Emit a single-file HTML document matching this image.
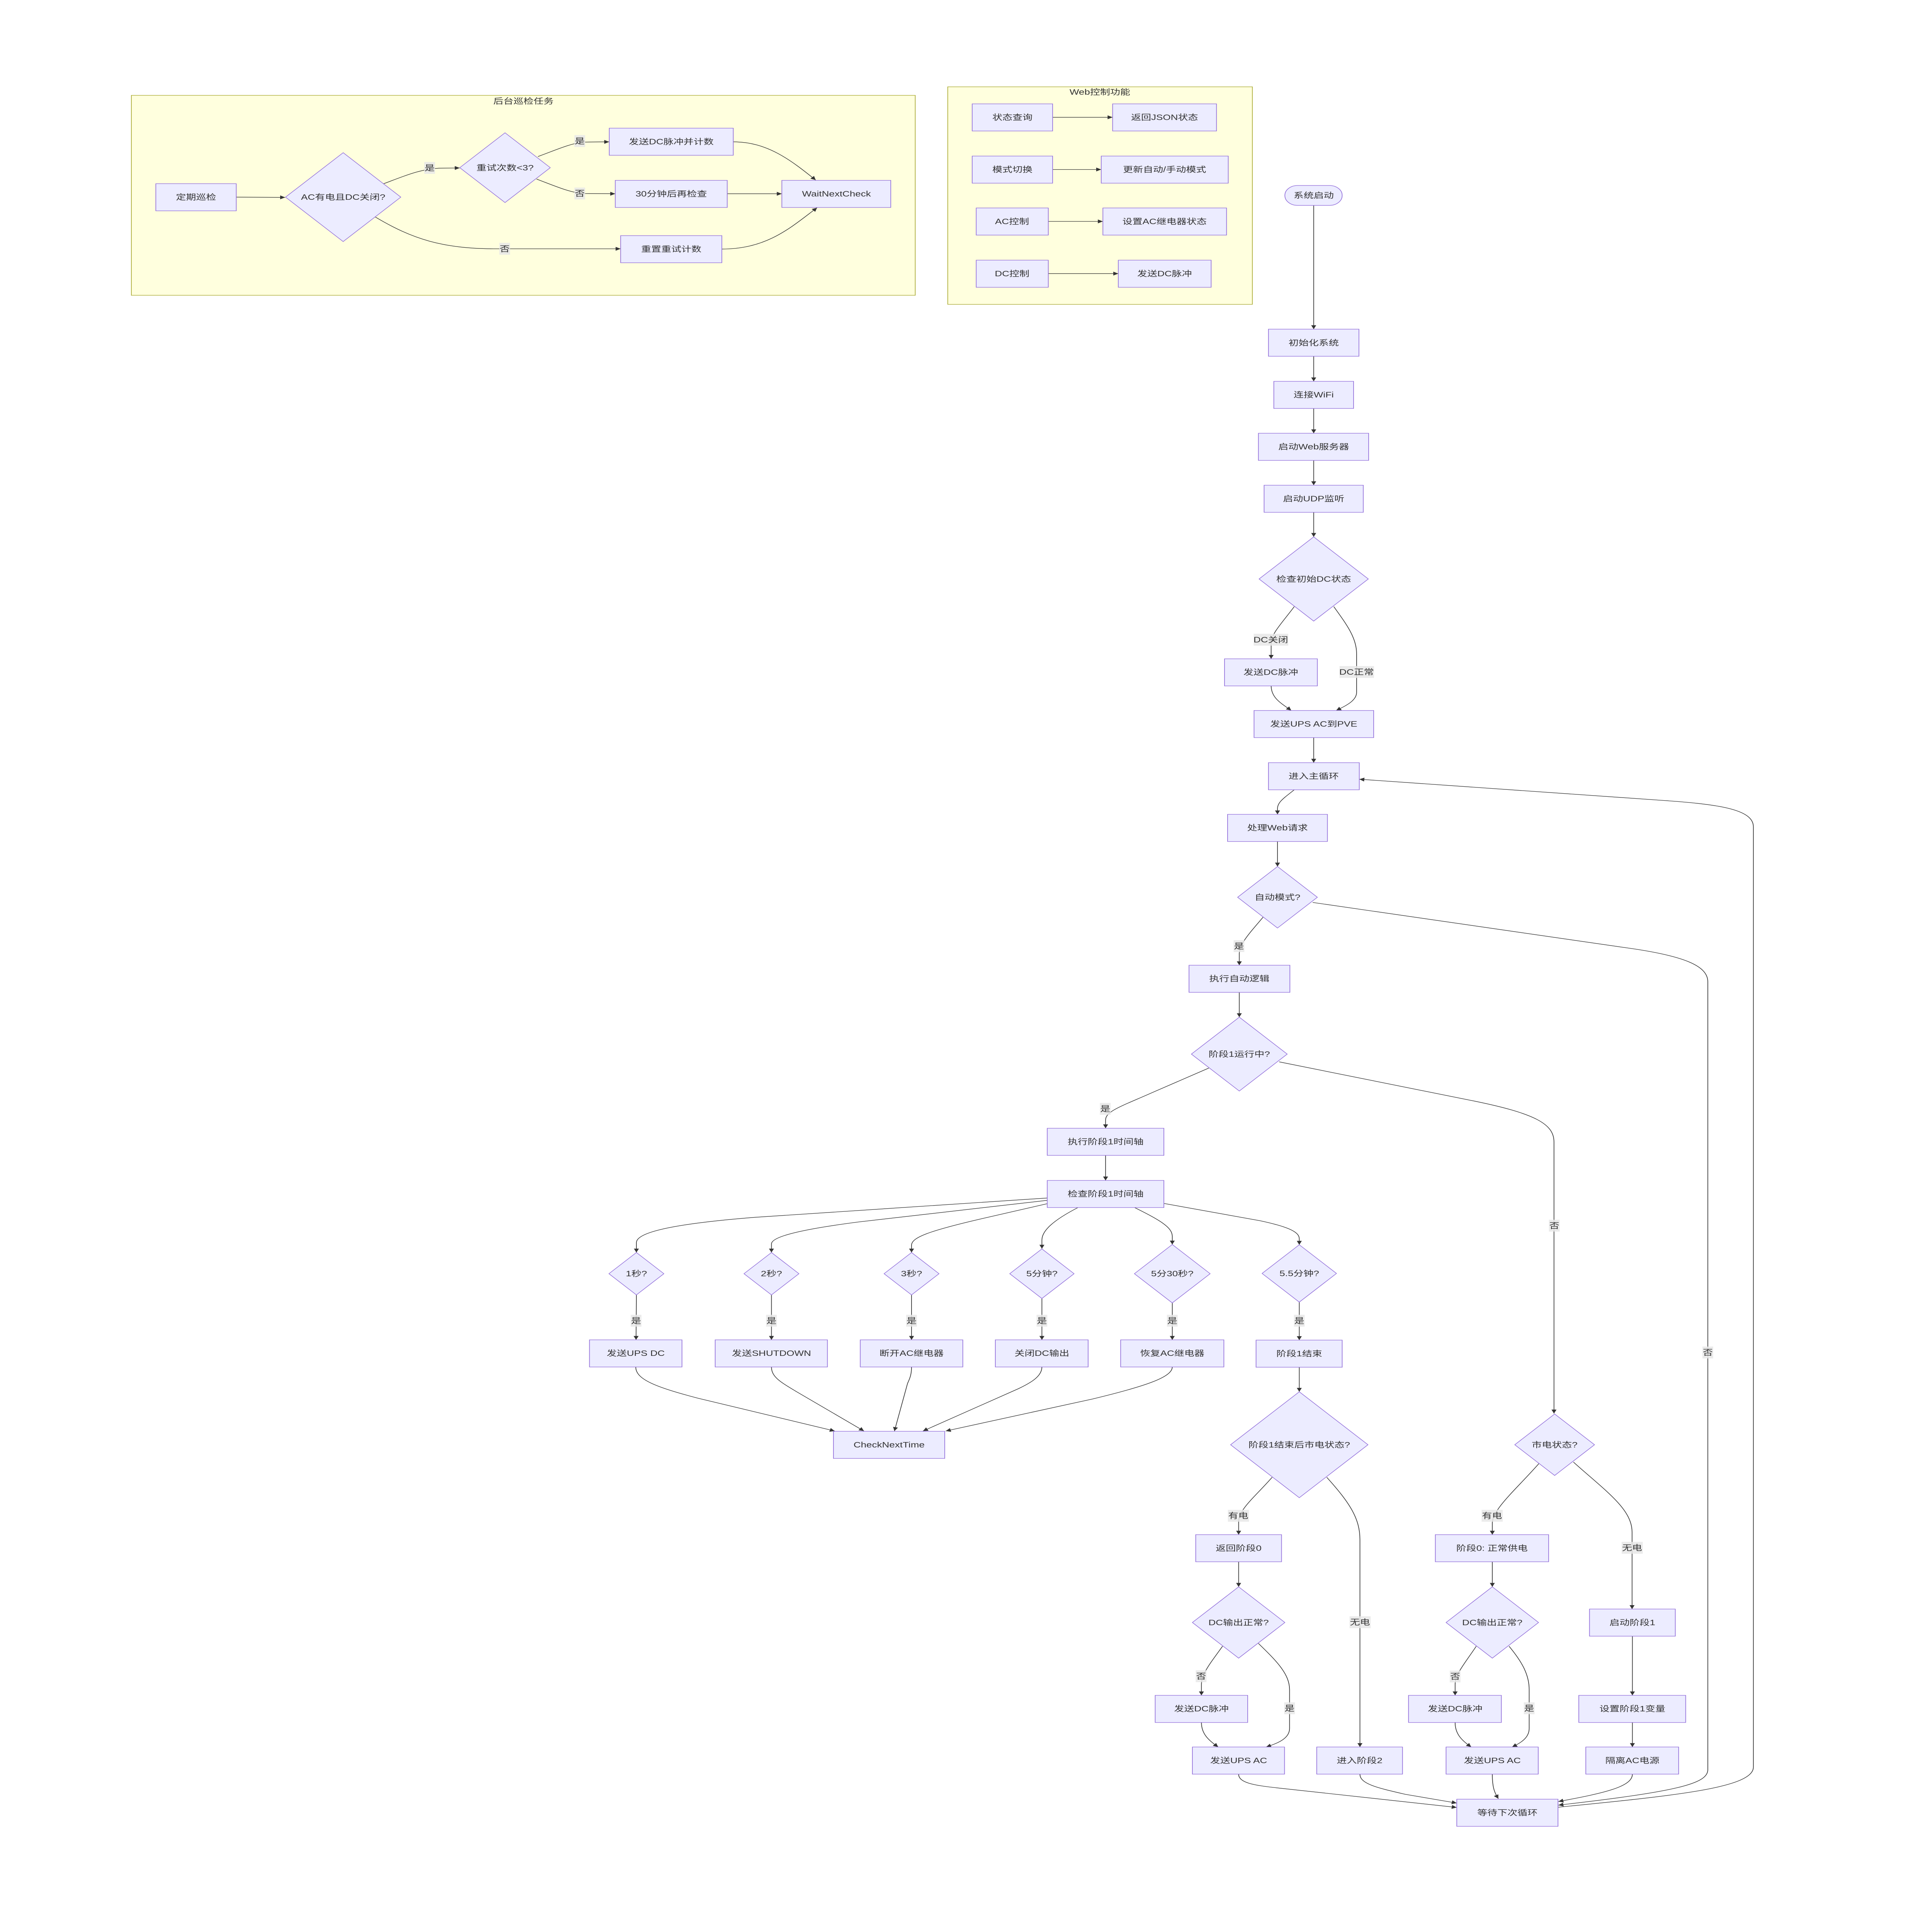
<!DOCTYPE html>
<html><head><meta charset="utf-8"><style>
html,body{margin:0;padding:0;background:#fff;overflow:hidden;width:100%;height:100%;}
svg{position:fixed;left:0;top:0;display:block;width:100vw;height:100vh;}
text{font-family:"Liberation Sans","Noto Sans CJK SC",sans-serif;font-size:30px;fill:#333;}
.n{fill:#ECECFF;stroke:#9370DB;stroke-width:2;}
.c{fill:#ffffde;stroke:#aaaa33;stroke-width:2;}
.e{fill:none;stroke:#333;stroke-width:2;}
.l{fill:#e8e8e8;fill-opacity:0.85;}
</style></head><body>
<svg viewBox="0 0 5765 7478" preserveAspectRatio="none" xmlns="http://www.w3.org/2000/svg">
<defs><marker id="a" viewBox="0 0 10 10" refX="10" refY="5" markerUnits="userSpaceOnUse" markerWidth="16" markerHeight="15" orient="auto"><path d="M0,0 L10,5 L0,10 z" fill="#333"/></marker></defs>
<rect width="5765" height="7478" fill="#fff"/>

<!-- clusters -->
<rect class="c" x="392" y="369" width="2339" height="774"/>
<text x="1562" y="391" text-anchor="middle" dominant-baseline="central">后台巡检任务</text>
<rect class="c" x="2828" y="336" width="909" height="842"/>
<text x="3282" y="356" text-anchor="middle" dominant-baseline="central">Web控制功能</text>

<!-- edges -->
<g>
<path class="e" marker-end="url(#a)" d="M705,763 L851,764"/>
<path class="e" marker-end="url(#a)" d="M1145,711 C1215,677 1255,655 1310,651 L1372,650"/>
<path class="e" marker-end="url(#a)" d="M1605,606 C1660,580 1700,556 1740,550 L1818,549"/>
<path class="e" marker-end="url(#a)" d="M1601,693 C1660,722 1700,745 1740,749 L1836,750"/>
<path class="e" marker-end="url(#a)" d="M1120,840 C1230,925 1320,963 1480,963 L1852,963"/>
<path class="e" marker-end="url(#a)" d="M2188,549 C2290,549 2360,620 2434,697"/>
<path class="e" marker-end="url(#a)" d="M2170,750 L2333,750"/>
<path class="e" marker-end="url(#a)" d="M2154,964 C2290,964 2360,880 2438,804"/>

<path class="e" marker-end="url(#a)" d="M3141,454 L3320,454"/>
<path class="e" marker-end="url(#a)" d="M3141,656 L3286,656"/>
<path class="e" marker-end="url(#a)" d="M3128,857 L3291,857"/>
<path class="e" marker-end="url(#a)" d="M3128,1059 L3337,1059"/>

<path class="e" marker-end="url(#a)" d="M3920,795 L3920,1274"/>
<path class="e" marker-end="url(#a)" d="M3920,1379 L3920,1476"/>
<path class="e" marker-end="url(#a)" d="M3920,1581 L3920,1677"/>
<path class="e" marker-end="url(#a)" d="M3920,1782 L3920,1878"/>
<path class="e" marker-end="url(#a)" d="M3920,1983 L3920,2078"/>
<path class="e" marker-end="url(#a)" d="M3862,2348 C3820,2420 3795,2450 3793,2490 L3793,2550"/>
<path class="e" marker-end="url(#a)" d="M3980,2348 C4020,2420 4048,2470 4048,2530 L4048,2680 C4048,2710 4020,2730 3987,2750"/>
<path class="e" marker-end="url(#a)" d="M3793,2653 C3793,2700 3820,2720 3853,2750"/>
<path class="e" marker-end="url(#a)" d="M3920,2855 L3920,2952"/>
<path class="e" marker-end="url(#a)" d="M3863,3056 C3830,3090 3812,3105 3812,3130 L3812,3152"/>
<path class="e" marker-end="url(#a)" d="M3812,3257 L3812,3354"/>
<path class="e" marker-end="url(#a)" d="M3769,3550 C3730,3610 3700,3650 3698,3690 L3698,3736"/>
<path class="e" marker-end="url(#a)" d="M3917,3493 L4850,3668 C5030,3700 5096,3740 5096,3800 L5096,6850 C5096,6905 5000,6935 4650,6987"/>
<path class="e" marker-end="url(#a)" d="M4650,6995 C5000,6950 5232,6920 5232,6840 L5232,3200 C5232,3130 5120,3112 4950,3097 L4056,3016"/>
<path class="e" marker-end="url(#a)" d="M3698,3841 L3698,3937"/>
<path class="e" marker-end="url(#a)" d="M3607,4134 L3440,4228 C3350,4280 3299,4300 3299,4335 L3299,4367"/>
<path class="e" marker-end="url(#a)" d="M3817,4110 L4400,4262 C4580,4310 4637,4350 4637,4420 L4637,5471"/>
<path class="e" marker-end="url(#a)" d="M3299,4472 L3299,4569"/>
<path class="e" marker-end="url(#a)" d="M3125,4637 L2250,4712 C1980,4740 1899,4775 1899,4810 L1899,4848"/>
<path class="e" marker-end="url(#a)" d="M3125,4646 L2560,4730 C2370,4762 2302,4790 2302,4815 L2302,4848"/>
<path class="e" marker-end="url(#a)" d="M3125,4659 L2930,4717 C2770,4765 2720,4790 2720,4820 L2720,4848"/>
<path class="e" marker-end="url(#a)" d="M3218,4673 C3140,4725 3109,4765 3109,4800 L3109,4833"/>
<path class="e" marker-end="url(#a)" d="M3384,4673 C3460,4722 3498,4750 3498,4785 L3498,4817"/>
<path class="e" marker-end="url(#a)" d="M3473,4658 L3760,4725 C3850,4750 3877,4770 3877,4795 L3877,4818"/>
<path class="e" marker-end="url(#a)" d="M1899,5012 L1898,5186"/>
<path class="e" marker-end="url(#a)" d="M2302,5012 L2302,5186"/>
<path class="e" marker-end="url(#a)" d="M2720,5012 L2720,5186"/>
<path class="e" marker-end="url(#a)" d="M3109,5026 L3109,5186"/>
<path class="e" marker-end="url(#a)" d="M3498,5043 L3498,5186"/>
<path class="e" marker-end="url(#a)" d="M3877,5040 L3877,5187"/>
<path class="e" marker-end="url(#a)" d="M1897,5291 C1897,5340 1960,5370 2083,5412 L2491,5539"/>
<path class="e" marker-end="url(#a)" d="M2302,5291 C2302,5330 2330,5350 2376,5386 L2578,5539"/>
<path class="e" marker-end="url(#a)" d="M2720,5291 C2720,5320 2715,5335 2708,5355 L2669,5539"/>
<path class="e" marker-end="url(#a)" d="M3109,5291 C3109,5325 3080,5350 3039,5375 L2754,5539"/>
<path class="e" marker-end="url(#a)" d="M3498,5291 C3498,5330 3420,5365 3260,5415 L2822,5539"/>
<path class="e" marker-end="url(#a)" d="M3877,5292 L3877,5387"/>
<path class="e" marker-end="url(#a)" d="M3796,5718 C3740,5800 3698,5840 3696,5890 L3696,5940"/>
<path class="e" marker-end="url(#a)" d="M3959,5718 C4030,5820 4058,5880 4058,5960 L4058,6762"/>
<path class="e" marker-end="url(#a)" d="M4592,5665 C4520,5770 4455,5840 4453,5895 L4453,5940"/>
<path class="e" marker-end="url(#a)" d="M4695,5659 C4790,5770 4870,5840 4870,5930 L4870,6228"/>
<path class="e" marker-end="url(#a)" d="M3696,6045 L3696,6142"/>
<path class="e" marker-end="url(#a)" d="M3648,6372 C3610,6440 3585,6480 3585,6520 L3585,6562"/>
<path class="e" marker-end="url(#a)" d="M3755,6361 C3810,6430 3848,6480 3848,6540 L3848,6690 C3848,6725 3820,6745 3778,6762"/>
<path class="e" marker-end="url(#a)" d="M3585,6667 C3585,6710 3605,6735 3635,6762"/>
<path class="e" marker-end="url(#a)" d="M4453,6045 L4453,6142"/>
<path class="e" marker-end="url(#a)" d="M4405,6372 C4370,6440 4342,6480 4342,6520 L4342,6562"/>
<path class="e" marker-end="url(#a)" d="M4503,6372 C4540,6430 4563,6480 4563,6540 L4563,6690 C4563,6725 4540,6745 4512,6762"/>
<path class="e" marker-end="url(#a)" d="M4342,6667 C4342,6710 4360,6735 4390,6762"/>
<path class="e" marker-end="url(#a)" d="M4871,6333 L4871,6562"/>
<path class="e" marker-end="url(#a)" d="M4871,6667 L4871,6762"/>
<path class="e" marker-end="url(#a)" d="M3696,6867 C3696,6900 3740,6910 3810,6920 L4347,6996"/>
<path class="e" marker-end="url(#a)" d="M4058,6867 C4058,6905 4110,6920 4193,6945 L4347,6979"/>
<path class="e" marker-end="url(#a)" d="M4453,6867 C4453,6920 4460,6940 4471,6962"/>
<path class="e" marker-end="url(#a)" d="M4871,6867 C4871,6915 4790,6940 4650,6973"/>
</g>

<!-- edge labels -->
<g text-anchor="middle" dominant-baseline="central">
<rect class="l" x="1266" y="627" width="32" height="46"/><text x="1282" y="650">是</text>
<rect class="l" x="1714" y="523" width="32" height="46"/><text x="1730" y="546">是</text>
<rect class="l" x="1714" y="726" width="32" height="46"/><text x="1730" y="749">否</text>
<rect class="l" x="1490" y="940" width="32" height="46"/><text x="1506" y="963">否</text>

<rect class="l" x="3741" y="2453" width="103" height="46"/><text x="3792" y="2476">DC关闭</text>
<rect class="l" x="3997" y="2578" width="103" height="46"/><text x="4048" y="2601">DC正常</text>
<rect class="l" x="3681" y="3639" width="32" height="46"/><text x="3697" y="3662">是</text>
<rect class="l" x="3282" y="4269" width="32" height="46"/><text x="3298" y="4292">是</text>
<rect class="l" x="4622" y="4721" width="32" height="46"/><text x="4638" y="4744">否</text>
<rect class="l" x="5080" y="5212" width="32" height="46"/><text x="5096" y="5235">否</text>
<rect class="l" x="1882" y="5089" width="32" height="46"/><text x="1898" y="5112">是</text>
<rect class="l" x="2286" y="5089" width="32" height="46"/><text x="2302" y="5112">是</text>
<rect class="l" x="2704" y="5089" width="32" height="46"/><text x="2720" y="5112">是</text>
<rect class="l" x="3093" y="5089" width="32" height="46"/><text x="3109" y="5112">是</text>
<rect class="l" x="3482" y="5089" width="32" height="46"/><text x="3498" y="5112">是</text>
<rect class="l" x="3861" y="5089" width="32" height="46"/><text x="3877" y="5112">是</text>
<rect class="l" x="3664" y="5844" width="63" height="46"/><text x="3695" y="5867">有电</text>
<rect class="l" x="4027" y="6256" width="63" height="46"/><text x="4058" y="6279">无电</text>
<rect class="l" x="4421" y="5844" width="63" height="46"/><text x="4452" y="5867">有电</text>
<rect class="l" x="4839" y="5968" width="63" height="46"/><text x="4870" y="5991">无电</text>
<rect class="l" x="3568" y="6465" width="32" height="46"/><text x="3584" y="6488">否</text>
<rect class="l" x="3832" y="6589" width="32" height="46"/><text x="3848" y="6612">是</text>
<rect class="l" x="4326" y="6466" width="32" height="46"/><text x="4342" y="6489">否</text>
<rect class="l" x="4547" y="6589" width="32" height="46"/><text x="4563" y="6612">是</text>
</g>

<!-- nodes -->
<g text-anchor="middle" dominant-baseline="central">
<rect class="n" x="465" y="711" width="240" height="105"/><text x="585" y="763">定期巡检</text>
<polygon class="n" points="1024,591 1196,763 1024,935 852,763"/><text x="1024" y="763">AC有电且DC关闭?</text>
<polygon class="n" points="1507,514 1642,649 1507,784 1372,649"/><text x="1507" y="649">重试次数&lt;3?</text>
<rect class="n" x="1818" y="496" width="370" height="105"/><text x="2003" y="548">发送DC脉冲并计数</text>
<rect class="n" x="1836" y="698" width="334" height="105"/><text x="2003" y="750">30分钟后再检查</text>
<rect class="n" x="1852" y="912" width="302" height="105"/><text x="2003" y="964">重置重试计数</text>
<rect class="n" x="2333" y="698" width="325" height="105"/><text x="2496" y="750">WaitNextCheck</text>

<rect class="n" x="2901" y="402" width="240" height="105"/><text x="3021" y="454">状态查询</text>
<rect class="n" x="3320" y="402" width="310" height="105"/><text x="3475" y="454">返回JSON状态</text>
<rect class="n" x="2901" y="604" width="240" height="105"/><text x="3021" y="656">模式切换</text>
<rect class="n" x="3286" y="604" width="379" height="105"/><text x="3475" y="656">更新自动/手动模式</text>
<rect class="n" x="2913" y="805" width="215" height="105"/><text x="3020" y="857">AC控制</text>
<rect class="n" x="3291" y="805" width="369" height="105"/><text x="3475" y="857">设置AC继电器状态</text>
<rect class="n" x="2913" y="1007" width="215" height="105"/><text x="3020" y="1059">DC控制</text>
<rect class="n" x="3337" y="1007" width="277" height="105"/><text x="3475" y="1059">发送DC脉冲</text>

<rect class="n" x="3834" y="718" width="171" height="77" rx="38" ry="38"/><text x="3920" y="756">系统启动</text>
<rect class="n" x="3785" y="1274" width="270" height="105"/><text x="3920" y="1327">初始化系统</text>
<rect class="n" x="3801" y="1476" width="238" height="105"/><text x="3920" y="1528">连接WiFi</text>
<rect class="n" x="3755" y="1677" width="329" height="105"/><text x="3920" y="1729">启动Web服务器</text>
<rect class="n" x="3772" y="1878" width="296" height="105"/><text x="3920" y="1930">启动UDP监听</text>
<polygon class="n" points="3920,2078 4083,2241 3920,2404 3757,2241"/><text x="3920" y="2241">检查初始DC状态</text>
<rect class="n" x="3654" y="2550" width="277" height="105"/><text x="3792" y="2602">发送DC脉冲</text>
<rect class="n" x="3742" y="2750" width="357" height="105"/><text x="3920" y="2802">发送UPS AC到PVE</text>
<rect class="n" x="3785" y="2952" width="271" height="105"/><text x="3920" y="3004">进入主循环</text>
<rect class="n" x="3663" y="3152" width="298" height="105"/><text x="3812" y="3204">处理Web请求</text>
<polygon class="n" points="3812,3354 3931,3473 3812,3592 3693,3473"/><text x="3812" y="3473">自动模式?</text>
<rect class="n" x="3548" y="3736" width="301" height="105"/><text x="3698" y="3788">执行自动逻辑</text>
<polygon class="n" points="3698,3937 3841,4080 3698,4223 3555,4080"/><text x="3698" y="4080">阶段1运行中?</text>
<rect class="n" x="3125" y="4367" width="348" height="105"/><text x="3299" y="4419">执行阶段1时间轴</text>
<rect class="n" x="3125" y="4569" width="348" height="105"/><text x="3299" y="4621">检查阶段1时间轴</text>

<polygon class="n" points="1899,4848 1981,4930 1899,5012 1817,4930"/><text x="1899" y="4930">1秒?</text>
<polygon class="n" points="2302,4848 2384,4930 2302,5012 2220,4930"/><text x="2302" y="4930">2秒?</text>
<polygon class="n" points="2720,4848 2802,4930 2720,5012 2638,4930"/><text x="2720" y="4930">3秒?</text>
<polygon class="n" points="3109,4834 3205,4930 3109,5026 3013,4930"/><text x="3109" y="4930">5分钟?</text>
<polygon class="n" points="3498,4817 3611,4930 3498,5043 3385,4930"/><text x="3498" y="4930">5分30秒?</text>
<polygon class="n" points="3877,4818 3988,4929 3877,5040 3766,4929"/><text x="3877" y="4929">5.5分钟?</text>

<rect class="n" x="1759" y="5186" width="276" height="105"/><text x="1897" y="5238">发送UPS DC</text>
<rect class="n" x="2134" y="5186" width="335" height="105"/><text x="2302" y="5238">发送SHUTDOWN</text>
<rect class="n" x="2567" y="5186" width="306" height="105"/><text x="2720" y="5238">断开AC继电器</text>
<rect class="n" x="2970" y="5186" width="277" height="105"/><text x="3109" y="5238">关闭DC输出</text>
<rect class="n" x="3344" y="5186" width="308" height="105"/><text x="3498" y="5238">恢复AC继电器</text>
<rect class="n" x="3748" y="5187" width="257" height="105"/><text x="3877" y="5239">阶段1结束</text>
<rect class="n" x="2487" y="5540" width="332" height="105"/><text x="2653" y="5592">CheckNextTime</text>

<polygon class="n" points="3877,5387 4082,5592 3877,5797 3672,5592"/><text x="3877" y="5592">阶段1结束后市电状态?</text>
<polygon class="n" points="4639,5473 4758,5592 4639,5711 4520,5592"/><text x="4639" y="5592">市电状态?</text>

<rect class="n" x="3568" y="5940" width="256" height="105"/><text x="3696" y="5992">返回阶段0</text>
<polygon class="n" points="3696,6142 3834,6280 3696,6418 3558,6280"/><text x="3696" y="6280">DC输出正常?</text>
<rect class="n" x="3447" y="6562" width="276" height="105"/><text x="3585" y="6614">发送DC脉冲</text>
<rect class="n" x="3558" y="6762" width="275" height="105"/><text x="3696" y="6814">发送UPS AC</text>
<rect class="n" x="3929" y="6762" width="256" height="105"/><text x="4057" y="6814">进入阶段2</text>

<rect class="n" x="4283" y="5940" width="338" height="105"/><text x="4452" y="5992">阶段0: 正常供电</text>
<polygon class="n" points="4453,6142 4591,6280 4453,6418 4315,6280"/><text x="4453" y="6280">DC输出正常?</text>
<rect class="n" x="4203" y="6562" width="277" height="105"/><text x="4342" y="6614">发送DC脉冲</text>
<rect class="n" x="4315" y="6762" width="275" height="105"/><text x="4453" y="6814">发送UPS AC</text>

<rect class="n" x="4743" y="6228" width="256" height="105"/><text x="4871" y="6280">启动阶段1</text>
<rect class="n" x="4711" y="6562" width="319" height="105"/><text x="4871" y="6614">设置阶段1变量</text>
<rect class="n" x="4732" y="6762" width="277" height="105"/><text x="4871" y="6814">隔离AC电源</text>

<rect class="n" x="4347" y="6964" width="302" height="105"/><text x="4498" y="7016">等待下次循环</text>
</g>
</svg>
</body></html>
